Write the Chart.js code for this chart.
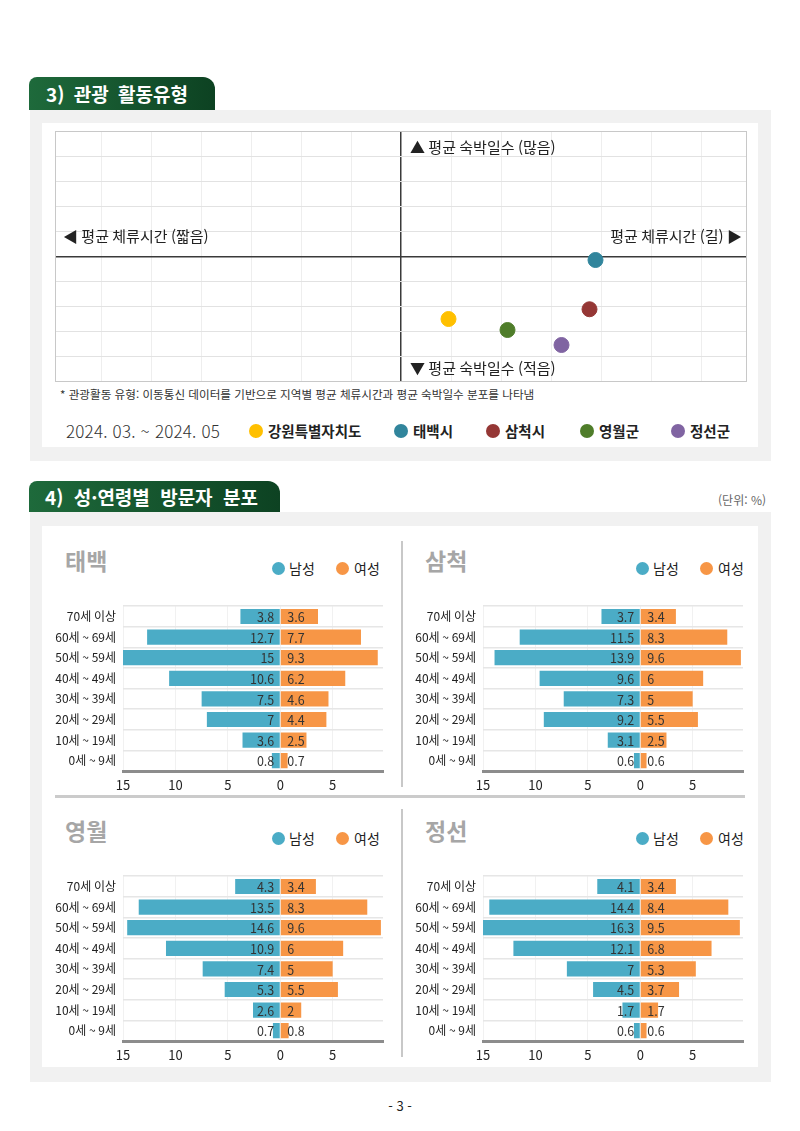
<!DOCTYPE html>
<html lang="ko">
<head>
<meta charset="utf-8">
<script src="https://cdn.jsdelivr.net/npm/chart.js@4.4.1/dist/chart.umd.min.js"></script>
<style>
  body{margin:0;width:800px;height:1131px;background:#fff;position:relative;font-family:"Noto Sans CJK KR","Noto Sans",sans-serif;color:#222;overflow:hidden}
  .abs{position:absolute}
  .tab{position:absolute;background:linear-gradient(90deg,#1e6a3b,#0d4222);border-radius:8px 12px 0 0;color:#fff;font-weight:700;font-size:19px;word-spacing:4px;display:flex;align-items:center;box-sizing:border-box;padding-left:17px}
  .panel{position:absolute;background:#f1f1f1}
  .inner{position:absolute;background:#fff}
  .dot{position:absolute;border-radius:50%}
  .lg{position:absolute;font-size:14.5px;font-weight:700;line-height:20px}
  .ptitle{position:absolute;font-size:23px;font-weight:700;color:#a6a6a6;line-height:30px}
  .plg{position:absolute;font-size:14px;line-height:18px;color:#222}
  canvas{position:absolute}
</style>
</head>
<body>
<div class="tab" style="left:29px;top:77px;width:186px;height:33px">3) 관광 활동유형</div>
<div class="panel" style="left:30px;top:110px;width:741px;height:351px"></div>
<div class="inner" style="left:42px;top:123px;width:716px;height:324px"></div>
<div class="abs" style="left:55px;top:131px;width:692px;height:251px;border:1px solid #c8c8c8;box-sizing:border-box"></div>
<canvas id="scatter" width="690" height="249" style="left:56px;top:132px"></canvas>
<div class="abs" style="left:60px;top:386px;font-size:11.6px;line-height:16px;color:#333">* 관광활동 유형: 이동통신 데이터를 기반으로 지역별 평균 체류시간과 평균 숙박일수 분포를 나타냄</div>
<div class="abs" style="left:66px;top:419px;font-size:17px;font-weight:300;line-height:24px;color:#333;letter-spacing:0.2px">2024. 03. ~ 2024. 05</div>
<div id="scatterLegend"></div>

<div class="tab" style="left:29px;top:481px;width:251px;height:31px;word-spacing:5px;padding-left:16px">4) 성·연령별 방문자 분포</div>
<div class="abs" style="right:34px;top:491px;font-size:12px;color:#666;line-height:18px">(단위: %)</div>
<div class="panel" style="left:30px;top:512px;width:741px;height:570px"></div>
<div class="inner" style="left:42px;top:526px;width:716px;height:541px"></div>
<div class="abs" style="left:401px;top:541px;width:2px;height:246px;background:#c8c8c8"></div>
<div class="abs" style="left:401px;top:809px;width:2px;height:248px;background:#c8c8c8"></div>
<div class="abs" style="left:55px;top:795px;width:690px;height:3px;background:#cbcbcb"></div>
<div id="pyramids"></div>

<div class="abs" style="left:0;width:800px;top:1097px;text-align:center;font-size:13px;line-height:18px;color:#222">- 3 -</div>

<script>
// 3) 관광 활동유형
const regions = ['강원특별자치도','태백시','삼척시','영월군','정선군'];
const stayTime = [0.95, 3.89, 3.77, 2.13, 3.21];     // 평균 체류시간 (center = 0)
const stayNights = [-2.5, -0.14, -2.11, -2.94, -3.54]; // 평균 숙박일수 (center = 0)
const regionColors = ['#ffc000','#31859c','#953735','#4f7d2a','#8064a2'];
const legendX = [256, 401, 493, 587, 678];

// 4) 성·연령별 방문자 분포
const ageLabels = ['70세 이상','60세 ~ 69세','50세 ~ 59세','40세 ~ 49세','30세 ~ 39세','20세 ~ 29세','10세 ~ 19세','0세 ~ 9세'];
const taebaekMale = [3.8,12.7,15,10.6,7.5,7,3.6,0.8];
const taebaekFemale = [3.6,7.7,9.3,6.2,4.6,4.4,2.5,0.7];
const samcheokMale = [3.7,11.5,13.9,9.6,7.3,9.2,3.1,0.6];
const samcheokFemale = [3.4,8.3,9.6,6,5,5.5,2.5,0.6];
const yeongwolMale = [4.3,13.5,14.6,10.9,7.4,5.3,2.6,0.7];
const yeongwolFemale = [3.4,8.3,9.6,6,5,5.5,2,0.8];
const jeongseonMale = [4.1,14.4,16.3,12.1,7,4.5,1.7,0.6];
const jeongseonFemale = [3.4,8.4,9.5,6.8,5.3,3.7,1.7,0.6];
const sexLabels = ['남성','여성'];
const sexColors = ['#4bacc6','#f79646'];

const FONT = '"Noto Sans CJK KR", "Noto Sans", sans-serif';
Chart.defaults.font.family = FONT;

// scatter legend (html)
const sl = document.getElementById('scatterLegend');
regions.forEach((r,i) => {
  sl.insertAdjacentHTML('beforeend',
    `<div class="dot" style="left:${legendX[i]-7}px;top:424px;width:14px;height:14px;background:${regionColors[i]}"></div>` +
    `<div class="lg" style="left:${legendX[i]+12}px;top:421px">${r}</div>`);
});

const quadrantText = {
  id:'quadrantText',
  afterDraw(chart){
    const {ctx, chartArea:a, scales:{x,y}} = chart;
    const x0 = x.getPixelForValue(0), y0 = y.getPixelForValue(0);
    ctx.save();
    ctx.font = '15px ' + FONT;
    ctx.fillStyle = '#222';
    ctx.textBaseline = 'middle';
    ctx.textAlign = 'left';
    ctx.fillText('▲ 평균 숙박일수 (많음)', x0 + 9, a.top + 15);
    ctx.fillText('▼ 평균 숙박일수 (적음)', x0 + 9, a.bottom - 13);
    ctx.fillText('◀ 평균 체류시간 (짧음)', a.left + 7, y0 - 20);
    ctx.textAlign = 'right';
    ctx.fillText('평균 체류시간 (길) ▶', a.right - 4, y0 - 20);
    ctx.restore();
  }
};

new Chart(document.getElementById('scatter'), {
  type:'scatter',
  data:{ datasets: regions.map((r,i) => ({
    label:r, data:[{x:stayTime[i], y:stayNights[i]}],
    backgroundColor:regionColors[i], borderColor:regionColors[i], pointRadius:7.5, pointHoverRadius:7.5
  }))},
  options:{
    responsive:false, animation:false, devicePixelRatio:1,
    layout:{padding:0, autoPadding:false},
    plugins:{legend:{display:false}, tooltip:{enabled:false}},
    scales:{
      x:{ min:-6.9, max:6.9, ticks:{display:false, stepSize:1}, border:{display:false},
          grid:{drawTicks:false, color:c => c.tick.value === 0 ? '#3a3a3a' : (Math.abs(c.tick.value) > 6.5 ? 'rgba(0,0,0,0)' : '#eeeeee'),
                lineWidth:c => c.tick.value === 0 ? 1.5 : 1} },
      y:{ min:-4.98, max:4.98, ticks:{display:false, stepSize:1}, border:{display:false},
          grid:{drawTicks:false, color:c => c.tick.value === 0 ? '#3a3a3a' : (Math.abs(c.tick.value) > 4.5 ? 'rgba(0,0,0,0)' : '#e2e2e2'),
                lineWidth:c => c.tick.value === 0 ? 1.5 : 1} }
    }
  },
  plugins:[quadrantText]
});

// pyramids
const barLabels = {
  id:'barLabels',
  afterDatasetsDraw(chart){
    const {ctx, scales:{x}} = chart;
    const x0 = x.getPixelForValue(0);
    ctx.save();
    ctx.font = '12.5px ' + FONT;
    ctx.fillStyle = '#333';
    ctx.textBaseline = 'middle';
    chart.data.datasets.forEach((ds, di) => {
      chart.getDatasetMeta(di).data.forEach((el, i) => {
        const v = Math.abs(ds.data[i]);
        ctx.textAlign = di === 0 ? 'right' : 'left';
        ctx.fillText(String(v), di === 0 ? x0 - 6 : x0 + 7, el.y + 1);
      });
    });
    ctx.restore();
  }
};

const pyramids = [
  {title:'태백', male:taebaekMale, female:taebaekFemale, left:45, top:592, tLeft:65, lgLeft:272},
  {title:'삼척', male:samcheokMale, female:samcheokFemale, left:405, top:592, tLeft:425, lgLeft:636},
  {title:'영월', male:yeongwolMale, female:yeongwolFemale, left:45, top:862, tLeft:65, lgLeft:272},
  {title:'정선', male:jeongseonMale, female:jeongseonFemale, left:405, top:862, tLeft:425, lgLeft:636}
];

const host = document.getElementById('pyramids');
pyramids.forEach((p, k) => {
  host.insertAdjacentHTML('beforeend',
    `<div class="ptitle" style="left:${p.tLeft}px;top:${p.top-47}px">${p.title}</div>` +
    `<div class="dot" style="left:${p.lgLeft}px;top:${p.top-30}px;width:13px;height:13px;background:${sexColors[0]}"></div>` +
    `<div class="plg" style="left:${p.lgLeft+17}px;top:${p.top-33}px">${sexLabels[0]}</div>` +
    `<div class="dot" style="left:${p.lgLeft+64}px;top:${p.top-30}px;width:13px;height:13px;background:${sexColors[1]}"></div>` +
    `<div class="plg" style="left:${p.lgLeft+82}px;top:${p.top-33}px">${sexLabels[1]}</div>` +
    `<canvas id="pyr${k}" width="350" height="203" style="left:${p.left}px;top:${p.top}px"></canvas>`);

  new Chart(document.getElementById('pyr' + k), {
    type:'bar',
    data:{
      labels:ageLabels,
      datasets:[
        {label:sexLabels[0], data:p.male.map(v => -v), backgroundColor:sexColors[0]},
        {label:sexLabels[1], data:p.female, backgroundColor:sexColors[1]}
      ]
    },
    options:{
      indexAxis:'y', responsive:false, animation:false, devicePixelRatio:1,
      layout:{padding:{top:10, right:12, left:0, bottom:0}},
      datasets:{bar:{barPercentage:0.74, categoryPercentage:1}},
      plugins:{legend:{display:false}, tooltip:{enabled:false}},
      scales:{
        x:{ stacked:true, min:-15, max:9.8,
            ticks:{stepSize:5, color:'#222', font:{size:13}, padding:6, callback:v => Math.abs(v)},
            afterBuildTicks:s => { s.ticks = s.ticks.filter(t => t.value % 5 === 0); },
            afterFit:s => { s.height = 24; },
            grid:{drawTicks:false, color:'#f1f1f1'},
            border:{color:'#8c8c8c', width:3} },
        y:{ stacked:true,
            ticks:{color:'#222', font:{size:12}, padding:7},
            afterFit:s => { s.width = 78; },
            grid:{drawTicks:false, color:'#e6e6e6', lineWidth:1.5},
            border:{display:false} }
      }
    },
    plugins:[barLabels]
  });
});
</script>
</body>
</html>
